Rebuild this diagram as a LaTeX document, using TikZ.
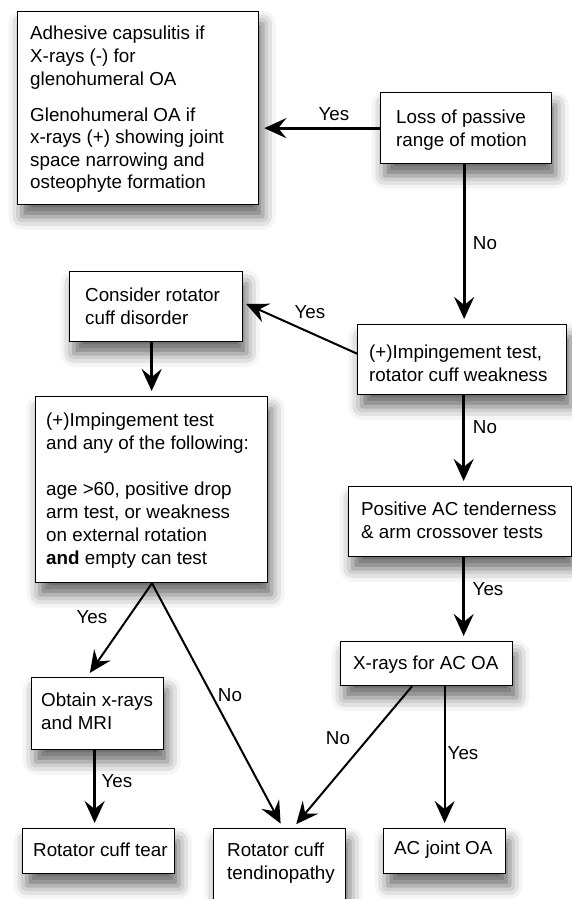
\documentclass[tikz,border=0pt]{standalone}
\usepackage{fontspec}
\setmainfont{Liberation Sans}
\usetikzlibrary{arrows.meta,calc,shadows.blur}

\begin{document}
\begin{tikzpicture}[x=1pt,y=-1pt,
  box/.style={draw=black, line width=1.3pt, fill=white, anchor=north west, inner sep=0pt,
    blur shadow={shadow xshift=4pt, shadow yshift=-12pt, shadow blur radius=13pt, shadow opacity=60}},
  txt/.style={anchor=north west, inner sep=0pt, align=left, font=\fontsize{18.8}{22.6}\selectfont},
  lbl/.style={inner sep=0pt, font=\fontsize{18.8}{22.6}\selectfont},
  thk/.style={line width=3pt, -{Stealth[length=22pt,width=20pt,inset=8pt]}, shorten >=5pt},
  thn/.style={line width=2pt, -{Stealth[length=22pt,width=20pt,inset=8pt]}, shorten >=5pt}]
\useasboundingbox (0,0) rectangle (572,899);
% boxes
\node[box, minimum width=241pt, minimum height=193pt] (A) at (17,11) {};
\node[box, minimum width=171pt, minimum height=71pt] (B) at (380,92) {};
\node[box, minimum width=209pt, minimum height=70pt] (C) at (357,324) {};
\node[box, minimum width=173pt, minimum height=70pt] (Co) at (69,271) {};
\node[box, minimum width=223pt, minimum height=70pt] (D) at (348,486) {};
\node[box, minimum width=232pt, minimum height=186pt] (I) at (35,396) {};
\node[box, minimum width=172pt, minimum height=44pt] (E) at (340,641) {};
\node[box, minimum width=132pt, minimum height=72pt] (Ob) at (31,677) {};
\node[box, minimum width=152pt, minimum height=45pt] (F) at (22,828) {};
\node[box, minimum width=132pt, minimum height=90pt] (G) at (213,828) {};
\node[box, minimum width=122pt, minimum height=45pt] (H) at (383,828) {};
% texts
\node[txt] (tA) at (30,26) {Adhesive capsulitis if\\X-rays (-) for\\glenohumeral OA\\[13.5pt]Glenohumeral OA if\\x-rays (+) showing joint\\space narrowing and\\osteophyte formation};
\node[txt] (tB) at (396,110) {Loss of passive\\range of motion};
\node[txt] (tC) at (369,345) {(+)Impingement test,\\rotator cuff weakness};
\node[txt] (tD) at (361,502) {Positive AC tenderness\\\& arm crossover tests};
\node[txt] (tE) at (353,656) {X-rays for AC OA};
\node[txt] (tCo) at (85,288) {Consider rotator\\cuff disorder};
\node[txt, font=\fontsize{18.8}{22.9}\selectfont] (tI) at (46,413) {(+)Impingement test\\and any of the following:\\[22.9pt]age >60, positive drop\\arm test, or weakness\\on external rotation\\\textbf{and} empty can test};
\node[txt] (tOb) at (41,693) {Obtain x-rays\\and MRI};
\node[txt] (tF) at (33,843) {Rotator cuff tear};
\node[txt] (tG) at (227,843) {Rotator cuff\\tendinopathy};
\node[txt] (tH) at (394,841) {AC joint OA};
% connectors
\draw[thk] (B.west) -- (B.west -| A.east);
\draw[thk] ($(B.south)+(-2,0)$) -- ($(B.south |- C.north)+(-2,0)$);
\draw[thk] ($(C.south)+(1.5,0)$) -- ($(C.south |- D.north)+(1.5,0)$);
\draw[thk] ($(D.south)+(3.5,0)$) -- ($(D.south |- E.north)+(3.5,0)$);
\draw[thn, shorten >=3pt] ($(C.west)+(0,-6)$) -- ($(Co.east)+(0,-4)$);
\draw[thk] (I.north |- Co.south) -- (I.north);
\draw[thn] ($(I.south west)+(117,0)$) -- ($(Ob.north west)+(56,0)$);
\draw[thn] ($(I.south west)+(117,0)$) -- ($(G.north west)+(70,0)$);
\draw[thk] ($(Ob.south)+(-3,0)$) -- ($(Ob.south |- F.north)+(-3,0)$);
\draw[thn] ($(E.south west)+(72,0)$) -- ($(G.north west)+(80,0)$);
\draw[thn] (H.north |- E.south) -- (H.north);
% labels
\node[lbl] (lY1) at (334,114) {Yes};
\node[lbl] (lN1) at (485,243) {No};
\node[lbl] (lY2) at (310,312) {Yes};
\node[lbl] (lN2) at (485,427) {No};
\node[lbl] (lY3) at (488,589) {Yes};
\node[lbl] (lY4) at (92,617) {Yes};
\node[lbl] (lN3) at (230,695) {No};
\node[lbl] (lN4) at (338,738) {No};
\node[lbl] (lY5) at (463,753) {Yes};
\node[lbl] (lY6) at (117,781) {Yes};
\end{tikzpicture}
\end{document}
